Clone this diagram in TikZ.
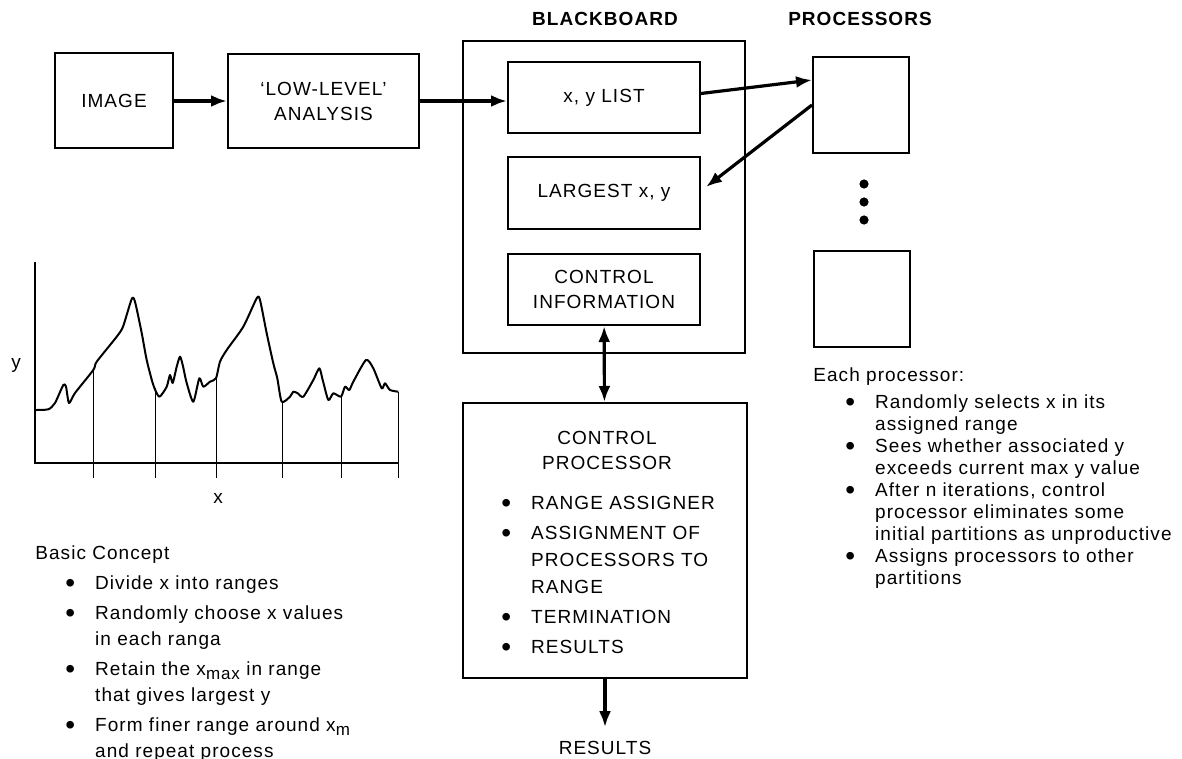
\documentclass[tikz,border=0pt]{standalone}
\usepackage{fontspec}
\setmainfont{Liberation Sans}[LetterSpace=5.5]
\usetikzlibrary{arrows.meta}

\newcommand\listdot{\raisebox{-1.5pt}{\fontsize{14}{14}\selectfont\textbullet}}
\newcommand\lowsub[1]{\raisebox{-2pt}{\fontsize{8.5}{8.5}\selectfont #1}}

\begin{document}
\begin{tikzpicture}[x=0.5pt,y=-0.5pt,
  font=\fontsize{9.5}{12.5}\selectfont,
  >={Latex[length=8pt,width=6pt]},
  box/.style={draw,line width=1pt,align=center},
  flow/.style={->,line width=1.6pt},
  heading/.style={font=\fontsize{9.5}{12.5}\selectfont\bfseries},
  lst/.style={anchor=base west,inner sep=0pt}]
  \useasboundingbox (0,0) rectangle (1182,759);

  % top row
  \node[box,minimum width=59pt,minimum height=47.5pt] (image) at (114,101) {IMAGE};
  \node[box,minimum width=95.5pt,minimum height=47pt] (lowlevel) at (323.5,101) {`LOW-LEVEL'\\ANALYSIS};
  \draw[flow] (image) -- (lowlevel);

  % blackboard
  \node[heading] (boardtitle) at (605,19) {BLACKBOARD};
  \node[box,minimum width=141pt,minimum height=156pt] (board) at (604,197) {};
  \node[box,minimum width=96pt,minimum height=35.5pt] (xylist) at (604,97.5) {x, y LIST};
  \node[box,minimum width=96pt,minimum height=36pt] (largest) at (604,193) {LARGEST x, y};
  \node[box,minimum width=96pt,minimum height=35.5pt] (ctrlinfo) at (604,289.5) {CONTROL\\INFORMATION};
  \draw[flow] (lowlevel.east) -- (lowlevel.east -| xylist.west);

  % processors
  \node[heading] (proctitle) at (860,19) {PROCESSORS};
  \node[box,minimum size=48pt] (proc1) at (861,105) {};
  \node[box,minimum size=48pt] (proc2) at (862,299) {};
  \fill (864,184) circle (2.3pt);
  \fill (864,202) circle (2.3pt);
  \fill (864,220) circle (2.3pt);
  \draw[flow] ([yshift=2pt]xylist.east) -- ([yshift=12.5pt]proc1.west);
  \draw[flow] (proc1.west) -- ([xshift=2.5pt,yshift=3pt]largest.east);

  % control processor
  \node[box,minimum width=142pt,minimum height=137.5pt] (ctrlproc) at (605,540.5) {};
  \node[align=center] (ctrlhead) at (607,450) {CONTROL\\PROCESSOR};
  \node[lst,font=\fontsize{9.5}{13.5}\selectfont] (ctrllist) at (501,509.5) {%
    \begin{tabular}[t]{@{}l@{\hspace{10pt}}l@{}}
      \listdot & RANGE ASSIGNER\\[1.5pt]
      \listdot & ASSIGNMENT OF\\
               & PROCESSORS TO\\
               & RANGE\\[1.5pt]
      \listdot & TERMINATION\\[1.5pt]
      \listdot & RESULTS
    \end{tabular}};
  \node (results) at (605,748) {RESULTS};
  \draw[flow,<->] (ctrlinfo) -- (ctrlproc);
  \draw[flow] (ctrlproc) -- ([yshift=3.5pt]results.north);

  % notes on the processors
  \node[lst] (prochead) at (813,381.5) {Each processor:};
  \node[lst,font=\fontsize{9.5}{11}\selectfont] (proclist) at (845,408.5) {%
    \begin{tabular}[t]{@{}l@{\hspace{10pt}}l@{}}
      \listdot & Randomly selects x in its\\
               & assigned range\\
      \listdot & Sees whether associated y\\
               & exceeds current max y value\\
      \listdot & After n iterations, control\\
               & processor eliminates some\\
               & initial partitions as unproductive\\
      \listdot & Assigns processors to other\\
               & partitions
    \end{tabular}};

  % the y(x) curve
  \draw[line width=0.8pt] (35,262) -- (35,463) -- (398,463);
  \draw[line width=0.5pt] (93,478) -- (93,370);
  \draw[line width=0.5pt] (155,478) -- (155,388);
  \draw[line width=0.5pt] (216,478) -- (216,378.3);
  \draw[line width=0.5pt] (282,478) -- (282,401.7);
  \draw[line width=0.5pt] (341,478) -- (341,396.7);
  \draw[line width=0.5pt] (398,478) -- (398,391.7);
  \draw[line width=1pt,line join=round] plot[smooth,tension=0.4] coordinates {
    (35,410) (48.3,409.3) (55,403) (63.3,385) (66,386.7) (69,403) (75,393)
    (93.3,370) (96.7,361.7) (116.7,336.7) (123,326.7) (131.7,299) (135,301.7)
    (141.7,333) (146.7,360) (153.3,385) (159.3,396.7) (166.7,386.7) (170,375)
    (172.7,383) (176.7,366.7) (180,356.7) (182.7,365) (186.7,383) (193.3,401.7)
    (199.3,378.3) (203.3,386.7) (210,381.7) (216,378.3) (220,361.7) (226.7,350)
    (243.3,326.7) (256.7,298.3) (260,300) (266.7,333.3) (273.3,363.3) (277.3,378.3)
    (281.7,401.7) (290,396.7) (293.3,391.7) (297.7,393.3) (303.3,396.7) (313.3,380)
    (319.3,368.3) (322.7,380) (328.3,400) (333.3,393.3) (341,396.7) (345,386.7)
    (349.3,390) (353.3,381.7) (366,360) (373.3,368.3) (381.7,388.3) (385,383.3)
    (390,390) (398.3,391.7)};
  \node (ylabel) at (16,365) {y};
  \node (xlabel) at (218,498) {x};

  % basic concept
  \node[lst] (concepthead) at (35,559.8) {Basic Concept};
  \node[lst,font=\fontsize{9.5}{13.25}\selectfont] (conceptlist) at (65,589.5) {%
    \begin{tabular}[t]{@{}l@{\hspace{10pt}}l@{}}
      \listdot & Divide x into ranges\\[1.5pt]
      \listdot & Randomly choose x values\\
               & in each ranga\\[1.5pt]
      \listdot & Retain the x\lowsub{max} in range\\
               & that gives largest y\\[1.5pt]
      \listdot & Form finer range around x\lowsub{m}\\
               & and repeat process
    \end{tabular}};
\end{tikzpicture}
\end{document}
